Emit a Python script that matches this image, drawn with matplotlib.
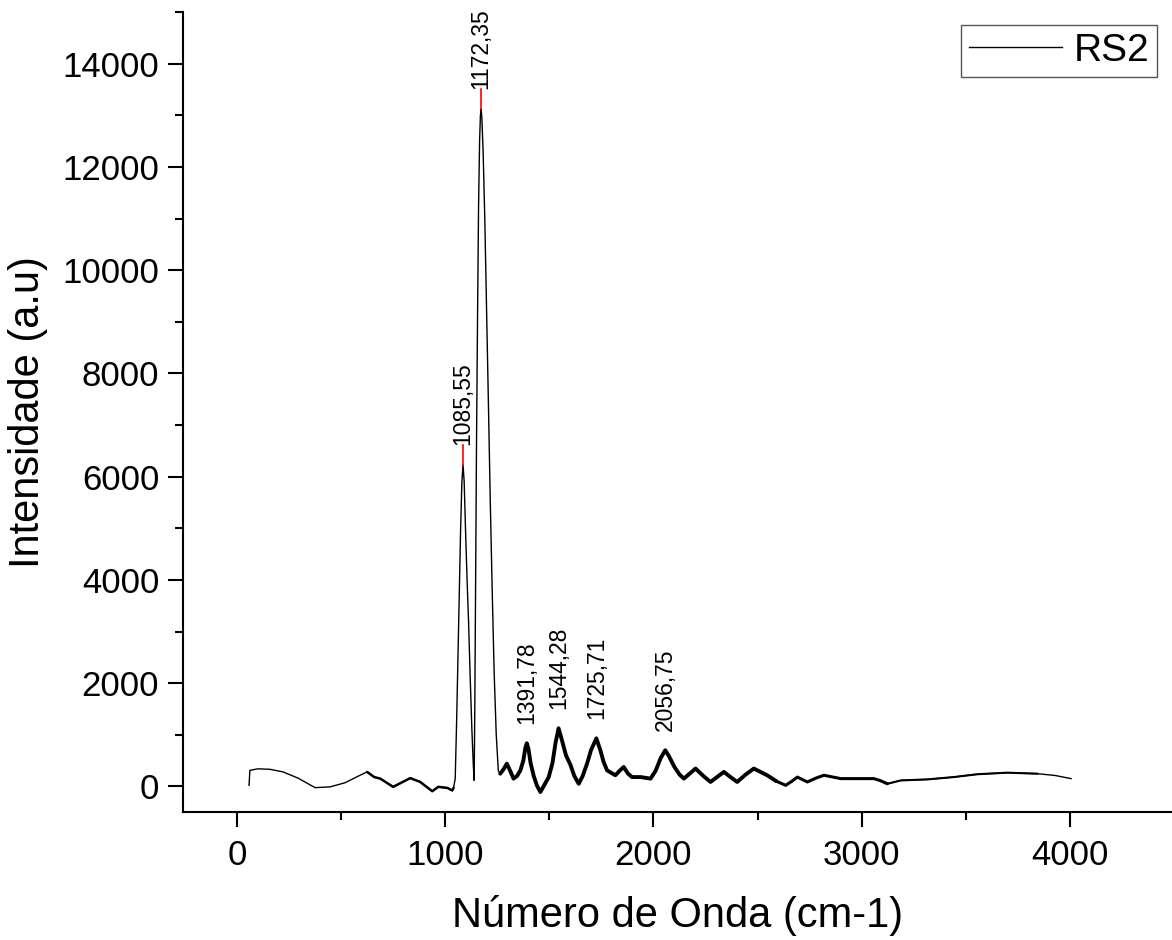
import matplotlib
matplotlib.use("Agg")
import matplotlib.pyplot as plt
from matplotlib.ticker import MultipleLocator
import numpy as np

plt.rcParams['font.family'] = ['Liberation Sans', 'DejaVu Sans']

# spectrum (wavenumber, intensity)
wavenumber = [58, 62, 101, 159, 221, 293, 375, 447, 519, 591, 625, 659, 688, 750,
              832, 880, 938, 966, 1010, 1034,
              1040, 1048, 1055, 1062, 1068, 1074, 1080, 1085.55, 1091, 1098, 1105,
              1112, 1120, 1128, 1135, 1139,
              1142, 1146, 1150, 1155, 1160, 1165, 1169, 1172.35, 1176, 1182, 1190,
              1198, 1207, 1216, 1225, 1235, 1245, 1255, 1264,
              1280, 1296, 1312, 1328, 1345, 1361, 1375, 1385, 1391.78, 1400, 1410,
              1425, 1440, 1457, 1475, 1497, 1515, 1530, 1544.28, 1560, 1580, 1601,
              1620, 1641, 1660, 1681, 1700, 1725.71, 1745, 1760, 1777, 1817, 1837,
              1857, 1877, 1897, 1938, 1986, 2010, 2035, 2056.75, 2075, 2100, 2125,
              2146, 2175, 2202, 2240, 2274, 2305, 2338, 2370, 2402, 2440, 2482,
              2546, 2590, 2635, 2665, 2691, 2739, 2780, 2819, 2899, 2960, 3011,
              3058, 3090, 3123, 3188, 3316, 3442, 3556, 3700, 3845, 3930, 4005]
intensity = [20, 310, 340, 330, 280, 160, -25, -10, 70, 215, 280, 180, 150, -10,
             160, 85, -95, -10, -30, -80,
             -30, 150, 1300, 2700, 3900, 5000, 5900, 6233, 5900, 4900, 4000,
             3200, 2100, 1100, 400, 115,
             1500, 4000, 6500, 9000, 11200, 12500, 13000, 13126, 12950, 12300, 11000,
             9300, 7500, 5600, 3900, 2200, 1000, 300, 245,
             330, 440, 300, 150, 200, 310, 500, 750, 835, 720, 450,
             200, 20, -110, 20, 180, 450, 850, 1126, 900, 600, 420,
             200, 50, 200, 440, 700, 930, 700, 480, 310, 215, 300,
             375, 250, 180, 180, 150, 300, 550, 700, 580, 380, 230,
             150, 250, 345, 200, 85, 180, 280, 180, 85, 220, 345,
             215, 100, 20, 100, 180, 85, 160, 215, 150, 150, 150,
             150, 110, 50, 115, 135, 180, 235, 265, 245, 210, 150]

# labelled peaks
peak_x = [1085.55, 1172.35, 1391.78, 1544.28, 1725.71, 2056.75]
peak_y = [6233, 13126, 835, 1126, 930, 700]
peak_marked = [True, True, False, False, False, False]

xs = np.array(wavenumber)
ys = np.array(intensity)

fig = plt.figure(figsize=(11.72, 9.40), dpi=100)
ax = fig.add_axes([0.156, 0.136, 0.844, 0.851])

ax.plot(xs, ys, color='black', lw=1.0, label='RS2')
# noisier stretches look thicker in the original
for lo, hi, w in [(600, 1040, 1.8), (1260, 2600, 2.8), (2590, 3130, 2.2), (3120, 3900, 1.5)]:
    m = (xs >= lo) & (xs <= hi)
    ax.plot(xs[m], ys[m], color='black', lw=w, solid_joinstyle='round',
            solid_capstyle='round')

off = 380
for px, py, mk in zip(peak_x, peak_y, peak_marked):
    if mk:
        ax.plot([px, px], [py, py + off], color='red', lw=1.2)
    ax.text(px, py + off, f"{px:.2f}".replace('.', ','), rotation=90,
            ha='center', va='bottom', fontsize=16.5)

ax.set_xlim(-260, 4490)
ax.set_ylim(-500, 15000)
ax.xaxis.set_major_locator(MultipleLocator(1000))
ax.xaxis.set_minor_locator(MultipleLocator(500))
ax.yaxis.set_major_locator(MultipleLocator(2000))
ax.yaxis.set_minor_locator(MultipleLocator(1000))
ax.set_xticks(range(0, 4001, 1000))

for s in ['top', 'right']:
    ax.spines[s].set_visible(False)
for s in ['left', 'bottom']:
    ax.spines[s].set_linewidth(1.5)
ax.tick_params(which='major', length=11, width=1.5, labelsize=25, direction='out')
ax.tick_params(which='minor', length=6, width=1.5, direction='out')
ax.tick_params(axis='x', pad=8)
ax.tick_params(axis='y', pad=6)

ax.set_xlabel('Número de Onda (cm-1)', fontsize=30, labelpad=17)
ax.set_ylabel('Intensidade (a.u)', fontsize=30, labelpad=10)

leg = ax.legend(handles=[ax.lines[0]], loc='upper right', bbox_to_anchor=(0.985, 0.984),
                borderaxespad=0, fontsize=28, handlelength=2.4, handletextpad=0.3,
                borderpad=0.2, fancybox=False, framealpha=1)
leg.get_frame().set_edgecolor('#555555')
leg.get_frame().set_linewidth(1.0)

plt.savefig('out.png', dpi=100)
